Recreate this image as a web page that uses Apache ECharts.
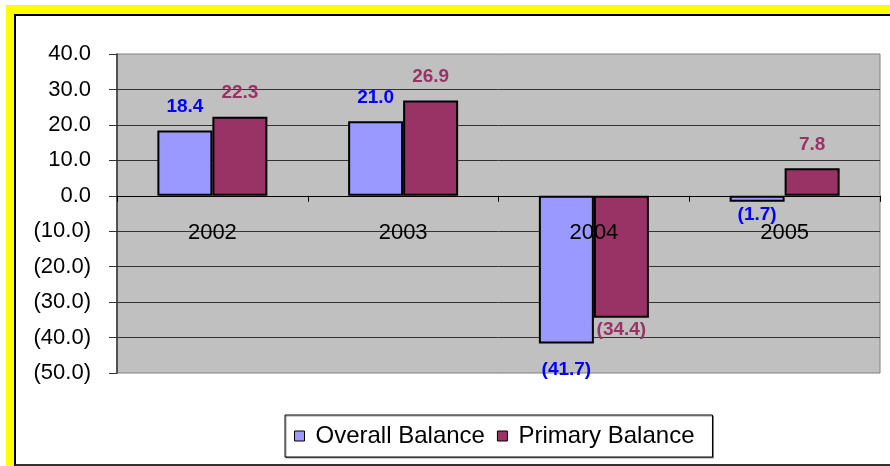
<!DOCTYPE html>
<html>
<head>
<meta charset="utf-8">
<script src="https://cdn.jsdelivr.net/npm/echarts@6/dist/echarts.min.js"></script>
<style>
  html, body { margin: 0; padding: 0; background: #fff; width: 890px; height: 466px; overflow: hidden; }
  .yellow { position: absolute; left: 6px; top: 5px; width: 900px; height: 470px; background: #ffff00; }
  .frame { position: absolute; left: 14px; top: 14px; width: 900px; height: 448px; background: #fff;
           border-top: 2px solid #000; border-left: 2px solid #000; border-bottom: 2px solid #333; }
  #chart { position: absolute; left: 0; top: 0; width: 890px; height: 466px; }
</style>
</head>
<body>
<div class="yellow"></div>
<div class="frame"></div>
<div id="chart"></div>
<script>
// chart data
const years = ["2002", "2003", "2004", "2005"];
const overallBalance = [18.4, 21.0, -41.7, -1.7];
const primaryBalance = [22.3, 26.9, -34.4, 7.8];

const fmt = (v) => (v < 0 ? "(" + Math.abs(v).toFixed(1) + ")" : v.toFixed(1));

// labels go under the bar when the value is negative
// (the deepest one sat a bit lower in the original)
const withLabels = (arr) =>
  arr.map((v) => ({
    value: v,
    label: {
      position: v < 0 ? "bottom" : "top",
      distance: v < 0 ? (v < -40 ? 17 : 3) : 14,
    },
  }));

const chart = echarts.init(document.getElementById("chart"));

const option = {
  animation: false,
  backgroundColor: "transparent",
  textStyle: { fontFamily: "Liberation Sans, Arial, sans-serif" },
  grid: {
    left: 117,
    right: 10,
    top: 54,
    bottom: 93,
    show: true,
    backgroundColor: "#c0c0c0",
    borderColor: "#808080",
    borderWidth: 1,
  },
  legend: {
    data: ["Overall Balance", "Primary Balance"],
    left: 285,
    top: 415,
    padding: [9, 18, 9, 9],
    itemWidth: 10,
    itemHeight: 10,
    itemGap: 12,
    icon: "rect",
    backgroundColor: "#fff",
    borderColor: "#000",
    borderWidth: 1,
    shadowColor: "rgba(0,0,0,0.4)",
    shadowOffsetX: 1,
    shadowOffsetY: 1,
    itemStyle: { borderColor: "#000", borderWidth: 1 },
    textStyle: { fontSize: 24, color: "#000", padding: [0, 0, 0, 6] },
  },
  xAxis: {
    type: "category",
    data: years,
    z: 5,
    axisLine: { onZero: true, lineStyle: { color: "#000", width: 1 } },
    axisTick: { show: true, length: 6, lineStyle: { color: "#000" } },
    // labels are anchored at the bottom of the grid, pull them up under the zero line
    axisLabel: { fontSize: 22, color: "#000", margin: -151 },
    splitLine: { show: false },
  },
  yAxis: {
    type: "value",
    min: -50,
    max: 40,
    interval: 10,
    axisLine: { show: true, lineStyle: { color: "#333", width: 1.5 } },
    axisTick: { show: true, length: 8, lineStyle: { color: "#333" } },
    axisLabel: { fontSize: 22, color: "#000", margin: 26, formatter: fmt },
    splitLine: { show: true, showMinLine: false, showMaxLine: false, lineStyle: { color: "#333", width: 1 } },
  },
  series: [
    {
      name: "Overall Balance",
      type: "bar",
      data: withLabels(overallBalance),
      barWidth: 55,
      barGap: "0%",
      itemStyle: { color: "#9999ff", borderColor: "#000", borderWidth: 2 },
      label: {
        show: true,
        color: "#0000ff",
        fontWeight: "bold",
        fontSize: 19,
        formatter: (p) => fmt(p.value),
      },
    },
    {
      name: "Primary Balance",
      type: "bar",
      data: withLabels(primaryBalance),
      barWidth: 55,
      barGap: "0%",
      itemStyle: { color: "#993366", borderColor: "#000", borderWidth: 2 },
      label: {
        show: true,
        color: "#993366",
        fontWeight: "bold",
        fontSize: 19,
        formatter: (p) => fmt(p.value),
      },
    },
  ],
};

chart.setOption(option);
</script>
</body>
</html>
